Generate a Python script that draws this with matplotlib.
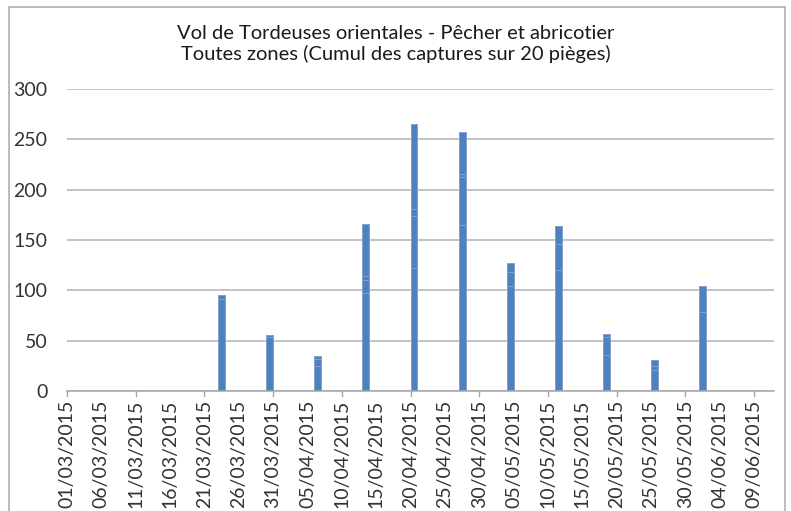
import datetime as dt
import matplotlib
matplotlib.use("Agg")
import matplotlib.pyplot as plt
import matplotlib.dates as mdates
from matplotlib.patches import Rectangle

plt.rcParams['font.family'] = ['Lato', 'DejaVu Sans']

# capture dates (weekly) and stacked catches per zone
dates = [dt.date(2015, 3, 23) + dt.timedelta(days=7 * i) for i in range(11)]
zone1 = [91, 54, 25, 97, 122, 165, 104, 120, 36, 21, 78]
zone2 = [0, 0, 7, 13, 52, 48, 14, 26, 18, 4, 26]
zone3 = [4, 2, 3, 4, 7, 3, 9, 18, 3, 6, 0]
zone4 = [0, 0, 0, 52, 84, 41, 0, 0, 0, 0, 0]
zones = [zone1, zone2, zone3, zone4]

title = "Vol de Tordeuses orientales - Pêcher et abricotier\nToutes zones (Cumul des captures sur 20 pièges)"
x_start = dt.date(2015, 3, 1)
x_end = dt.date(2015, 6, 11)

fig = plt.figure(figsize=(7.91, 5.11), dpi=100)
ax = fig.add_axes([67 / 791, 1 - 391 / 511, (774 - 67) / 791, (391 - 89) / 511])

bottom = [0] * len(dates)
for z in zones:
    ax.bar(dates, z, width=1.0, bottom=bottom, align='edge', color='#4f81bd',
           edgecolor='#7ea3d3', linewidth=0.7, zorder=3)
    bottom = [b + v for b, v in zip(bottom, z)]

ax.set_ylim(0, 300)
ax.set_yticks(range(0, 301, 50))
ax.set_xlim(mdates.date2num(x_start), mdates.date2num(x_end) + 0.9)

# labels every 5 days, tick marks every 10 days
label_days = [x_start + dt.timedelta(days=5 * i) for i in range(21)]
ax.set_xticks(label_days)
ax.set_xticklabels([d.strftime('%d/%m/%Y') for d in label_days], rotation=90,
                   fontsize=14, color='#333333')
ax.tick_params(axis='x', length=0, pad=6)
for i, d in enumerate(label_days):
    if i % 2 == 0:
        ax.plot([d, d], [0, -5], color='#a6a6a6', lw=1, clip_on=False, zorder=2)

ax.tick_params(axis='y', length=0, pad=14, labelsize=14, labelcolor='#333333')

ax.grid(axis='y', color='#b3b3b3', linewidth=1.1, zorder=0)
for s in ['top', 'right', 'left']:
    ax.spines[s].set_visible(False)
ax.spines['bottom'].set_color('#a6a6a6')
ax.spines['bottom'].set_linewidth(1.1)
ax.spines['bottom'].set_zorder(4)

fig.text(0.5, 1 - 44 / 511, title, ha='center', va='center', fontsize=14.5,
         color='#1a1a1a', linespacing=1.25)

fig.patches.append(Rectangle((9 / 791, -0.1), (785 - 9) / 791, 1.1 - 7 / 511,
                             transform=fig.transFigure, fill=False,
                             edgecolor='#b5b5b5', linewidth=1.3))

fig.savefig('out.png', dpi=100)
